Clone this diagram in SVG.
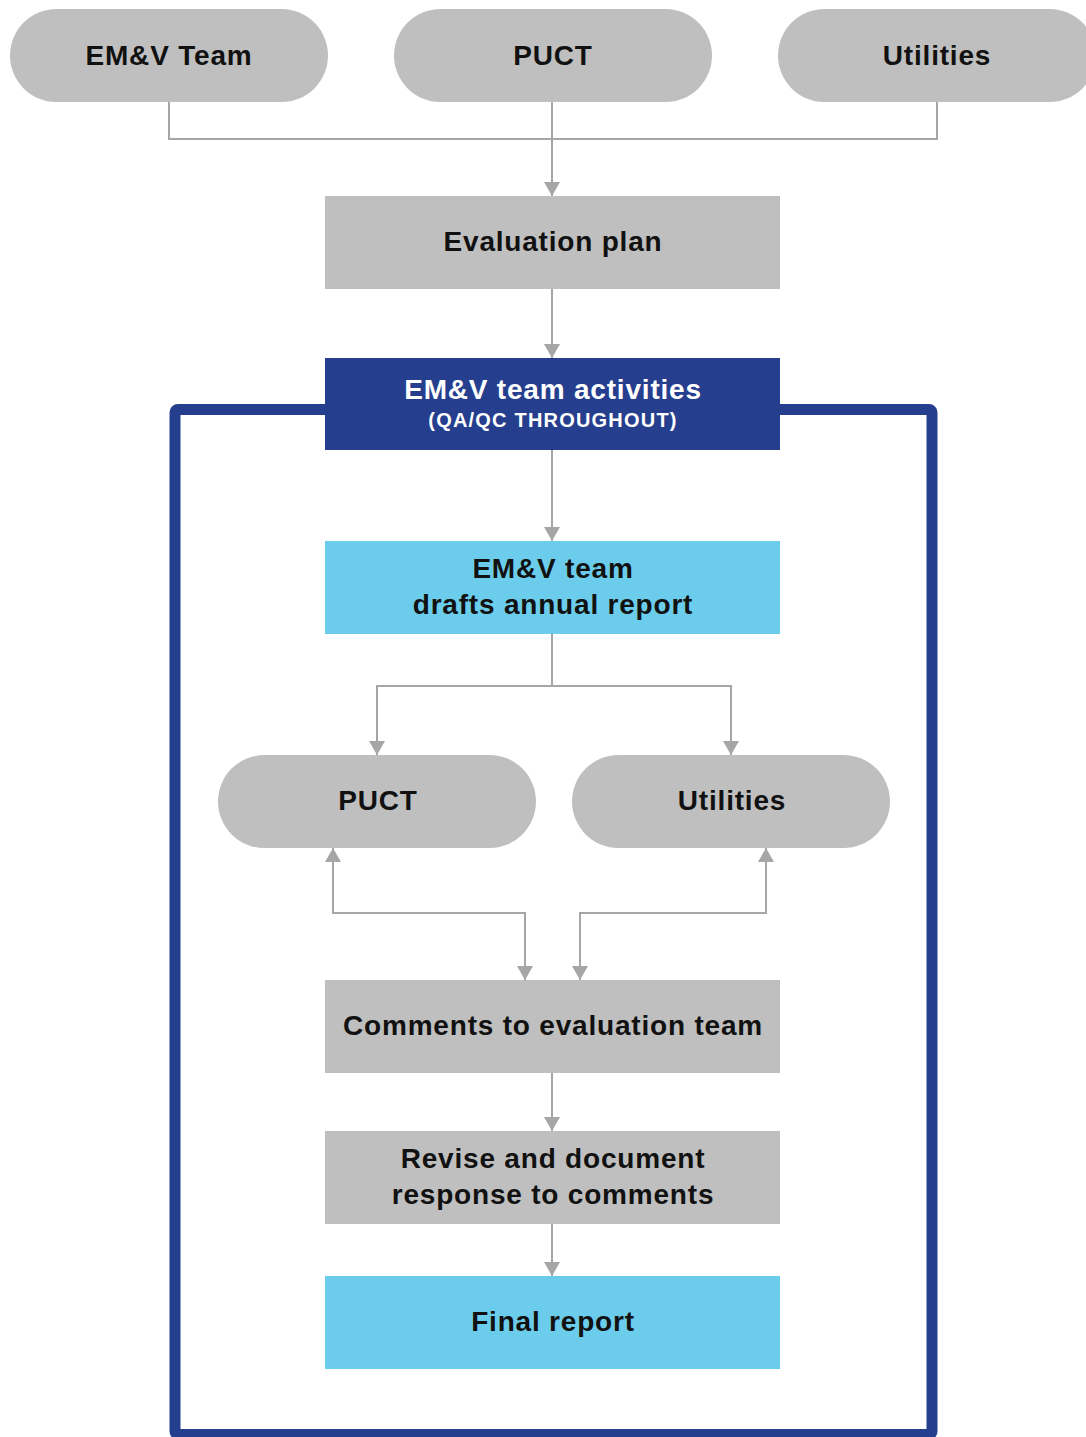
<svg xmlns="http://www.w3.org/2000/svg" width="1086" height="1437" viewBox="0 0 1086 1437">
  <defs>
    <style>
      .pill { fill: #bfbfbf; }
      .box { fill: #bfbfbf; }
      .cyan { fill: #6bcdeb; }
      .dark { fill: #253f8e; }
      .lbl { font-family: "Liberation Sans", Arial, sans-serif; font-weight: bold; font-size: 28px; letter-spacing: 0.8px; fill: #111; text-anchor: middle; }
      .wlbl { font-family: "Liberation Sans", Arial, sans-serif; font-weight: bold; fill: #fff; text-anchor: middle; }
      .conn { fill: none; stroke: #a6a6a6; stroke-width: 2; }
      .frame { fill: none; stroke: #253f8e; stroke-width: 11; stroke-linejoin: round; }
    </style>
    <marker id="arrow" viewBox="0 0 14 16" refX="14" refY="8" markerWidth="14" markerHeight="16" markerUnits="userSpaceOnUse" orient="auto">
      <path d="M0,0 L14,8 L0,16 Z" fill="#a6a6a6"/>
    </marker>
  </defs>
  <rect width="1086" height="1437" fill="#fff"/>

  <!-- outer frame around the EM&V team activities -->
  <rect class="frame" x="175" y="409.5" width="757" height="1025" rx="3"/>

  <!-- connectors -->
  <g id="connectors">
    <path class="conn" d="M169,102 V139 H937 V102"/>
    <path class="conn" d="M552,102 V196" marker-end="url(#arrow)"/>
    <path class="conn" d="M552,289 V358" marker-end="url(#arrow)"/>
    <path class="conn" d="M552,450 V541" marker-end="url(#arrow)"/>
    <path class="conn" d="M552,634 V686"/>
    <path class="conn" d="M552,686 H377 V755" marker-end="url(#arrow)"/>
    <path class="conn" d="M552,686 H731 V755" marker-end="url(#arrow)"/>
    <path class="conn" d="M525,913 H333 V848" marker-end="url(#arrow)"/>
    <path class="conn" d="M333,913 H525 V980" marker-end="url(#arrow)"/>
    <path class="conn" d="M580,913 H766 V848" marker-end="url(#arrow)"/>
    <path class="conn" d="M766,913 H580 V980" marker-end="url(#arrow)"/>
    <path class="conn" d="M552,1073 V1131" marker-end="url(#arrow)"/>
    <path class="conn" d="M552,1224 V1276" marker-end="url(#arrow)"/>
  </g>

  <g id="emv-team">
    <rect class="pill" x="10" y="9" width="318" height="93" rx="46.5"/>
    <text class="lbl" x="169" y="65">EM&amp;V Team</text>
  </g>
  <g id="puct-top">
    <rect class="pill" x="394" y="9" width="318" height="93" rx="46.5"/>
    <text class="lbl" x="553" y="65">PUCT</text>
  </g>
  <g id="utilities-top">
    <rect class="pill" x="778" y="9" width="318" height="93" rx="46.5"/>
    <text class="lbl" x="937" y="65">Utilities</text>
  </g>

  <g id="evaluation-plan">
    <rect class="box" x="325" y="196" width="455" height="93"/>
    <text class="lbl" x="553" y="251">Evaluation plan</text>
  </g>

  <g id="emv-activities">
    <rect class="dark" x="325" y="358" width="455" height="92"/>
    <text class="wlbl" x="553" y="399" font-size="28" letter-spacing="0.8">EM&amp;V team activities</text>
    <text class="wlbl" x="553" y="427" font-size="20" letter-spacing="1.2">(QA/QC THROUGHOUT)</text>
  </g>

  <g id="draft-report">
    <rect class="cyan" x="325" y="541" width="455" height="93"/>
    <text class="lbl" x="553" y="578">EM&amp;V team</text>
    <text class="lbl" x="553" y="614">drafts annual report</text>
  </g>

  <g id="puct-review">
    <rect class="pill" x="218" y="755" width="318" height="93" rx="46.5"/>
    <text class="lbl" x="378" y="810">PUCT</text>
  </g>
  <g id="utilities-review">
    <rect class="pill" x="572" y="755" width="318" height="93" rx="46.5"/>
    <text class="lbl" x="732" y="810">Utilities</text>
  </g>

  <g id="comments">
    <rect class="box" x="325" y="980" width="455" height="93"/>
    <text class="lbl" x="553" y="1035">Comments to evaluation team</text>
  </g>

  <g id="revise">
    <rect class="box" x="325" y="1131" width="455" height="93"/>
    <text class="lbl" x="553" y="1168">Revise and document</text>
    <text class="lbl" x="553" y="1204">response to comments</text>
  </g>

  <g id="final-report">
    <rect class="cyan" x="325" y="1276" width="455" height="93"/>
    <text class="lbl" x="553" y="1331">Final report</text>
  </g>
</svg>
